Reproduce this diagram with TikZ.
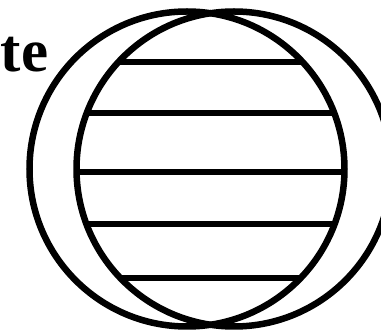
\documentclass[tikz,border=0pt]{standalone}
\usepackage{fontspec}
\setmainfont{Liberation Serif}
\begin{document}
\begin{tikzpicture}[x=1pt,y=1pt,
  ring/.style={draw=black,line width=6.5pt},
  band/.style={draw=black,line width=5.5pt},
  lbl/.style={inner sep=0pt,anchor=base west,font=\fontsize{61}{61}\selectfont\bfseries}]
\useasboundingbox (0,0) rectangle (381,332);
\clip (0,0) rectangle (381,332);
\coordinate (ca) at (187,163);
\coordinate (cb) at (234,163);
\begin{scope}
  \clip (ca) circle (157.5);
  \clip (cb) circle (157.5);
  \foreach \yy [count=\i] in {62,113,172,224,278} {
    \coordinate (l\i) at (0,332-\yy);
    \coordinate (r\i) at (381,332-\yy);
    \draw[band] (l\i) -- (r\i);
  }
\end{scope}
\draw[ring] (ca) circle (157.5);
\draw[ring] (cb) circle (157.5);
\node[lbl] (t) at (0.5,260) {te};
\end{tikzpicture}
\end{document}
